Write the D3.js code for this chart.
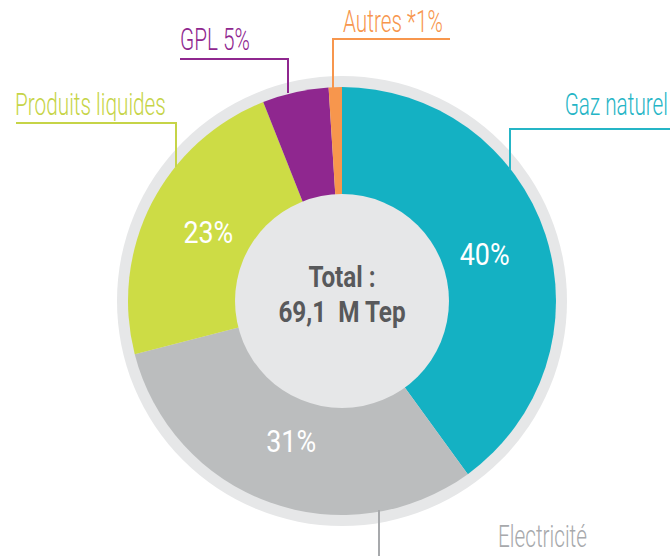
<!DOCTYPE html>
<html>
<head>
<meta charset="utf-8">
<script src="https://cdn.jsdelivr.net/npm/d3@7"></script>
<style>
  body { margin: 0; background: #fff; }
  svg text { font-family: Roboto, "Liberation Sans", sans-serif; }
</style>
</head>
<body>
<div id="chart-area"></div>
<script>
// Consommation finale d'energie par source
var categories = ['Gaz naturel', 'Electricité', 'Produits liquides', 'GPL', 'Autres'];
var shares = [40, 31, 23, 5, 1];
var colors = ['#14b1c3', '#bbbdbe', '#cddc45', '#8f278f', '#f7964d'];
var calloutText = ['Gaz naturel', 'Electricité', 'Produits liquides', 'GPL 5%', 'Autres *1%'];
var calloutColors = ['#25b5c6', '#a7a9ac', '#c6d447', '#8f278f', '#f7964d'];
var totalLines = ['Total :', '69,1\u00a0\u00a0M Tep'];

var width = 670, height = 556;
var cx = 342, cy = 301;
var rRing = 225, rOuter = 214, rInner = 107;

var data = categories.map(function (c, i) {
    return { name: c, value: shares[i], color: colors[i], label: calloutText[i], labelColor: calloutColors[i] };
});

var svg = d3.select('#chart-area').append('svg')
    .attr('width', width)
    .attr('height', height);

var g = svg.append('g')
    .attr('transform', 'translate(' + cx + ',' + cy + ')');

// light ring behind the slices
g.append('circle')
    .attr('r', rRing)
    .attr('fill', '#e6e7e8');

var pie = d3.pie().sort(null).value(function (d) { return d.value; });
var arcs = pie(data);

var arc = d3.arc().innerRadius(0).outerRadius(rOuter);

g.selectAll('path.slice').data(arcs).enter().append('path')
    .attr('class', 'slice')
    .attr('d', arc)
    .attr('fill', function (d) { return d.data.color; });

g.append('circle')
    .attr('r', rInner)
    .attr('fill', '#e6e7e8');

// percentages inside the bigger slices
var labelArc = d3.arc().innerRadius(150).outerRadius(150);
g.selectAll('text.pct').data(arcs.filter(function (d) { return d.data.value > 10; })).enter()
    .append('text')
    .attr('class', 'pct')
    .attr('transform', function (d) {
        var c = labelArc.centroid(d);
        return 'translate(' + c[0] + ',' + (c[1] + 10) + ') scale(0.84,1)';
    })
    .attr('text-anchor', 'middle')
    .attr('fill', '#fff')
    .attr('font-size', 32)
    .text(function (d) { return d.data.value + '%'; });

// centre total
g.selectAll('text.total').data(totalLines).enter()
    .append('text')
    .attr('class', 'total')
    .attr('transform', function (d, i) { return 'translate(0,' + (-14 + i * 35) + ') scale(0.81,1)'; })
    .attr('text-anchor', 'middle')
    .attr('fill', '#58595b')
    .attr('font-weight', 'bold')
    .attr('font-size', 30)
    .text(function (d) { return d; });

// callouts: leader line points, then text anchor point
var callouts = [
    { i: 0, pts: [[510, 170], [510, 129], [670, 129]], tx: 668, ty: 115, anchor: 'end' },
    { i: 1, pts: [[379, 510], [379, 556]], tx: 498, ty: 547, anchor: 'start' },
    { i: 2, pts: [[176, 167], [176, 123], [16, 123]], tx: 15, ty: 115, anchor: 'start' },
    { i: 3, pts: [[288, 93], [288, 59], [180, 59]], tx: 180, ty: 50, anchor: 'start' },
    { i: 4, pts: [[333, 88], [333, 39], [450, 39]], tx: 343, ty: 32, anchor: 'start' }
];

var line = d3.line();
svg.selectAll('path.callout').data(callouts).enter().append('path')
    .attr('class', 'callout')
    .attr('d', function (d) { return line(d.pts); })
    .attr('fill', 'none')
    .attr('stroke', function (d) { return data[d.i].labelColor; })
    .attr('stroke-width', 2);

svg.selectAll('text.callout').data(callouts).enter().append('text')
    .attr('class', 'callout')
    .attr('transform', function (d) { return 'translate(' + d.tx + ',' + d.ty + ') scale(0.67,1)'; })
    .attr('text-anchor', function (d) { return d.anchor; })
    .attr('fill', function (d) { return data[d.i].labelColor; })
    .attr('font-size', 31)
    .attr('font-weight', 300)
    .text(function (d) { return data[d.i].label; });
</script>
</body>
</html>
